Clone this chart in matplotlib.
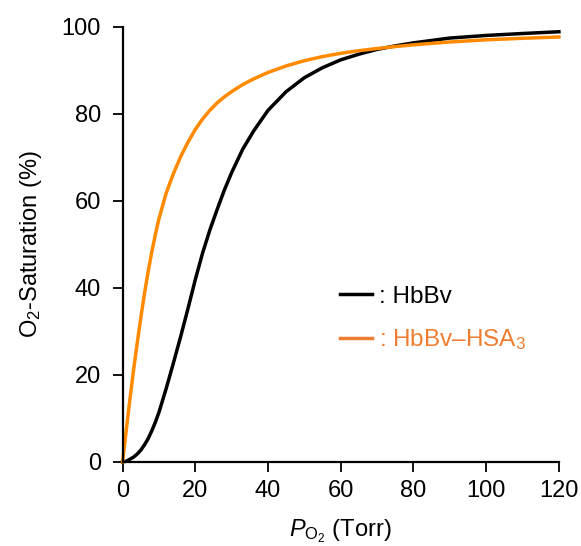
import numpy as np
import matplotlib.pyplot as plt

plt.rcParams['font.family'] = 'Liberation Sans'
plt.rcParams['mathtext.fontset'] = 'custom'
plt.rcParams['mathtext.rm'] = 'Liberation Sans'
plt.rcParams['mathtext.it'] = 'Liberation Sans:italic'

# O2 partial pressure (Torr)
po2 = [0, 1, 2, 3, 4, 5, 6, 7, 8, 9, 10, 12, 14, 16, 18, 20, 22, 24, 26, 28,
       30, 33, 36, 40, 45, 50, 55, 60, 65, 70, 75, 80, 90, 100, 110, 120]

# saturation (%)
sat_hbbv = [0, 0.15, 0.6, 1.1, 1.8, 2.7, 3.9, 5.3, 7.1, 9.1, 11.4, 16.9,
            22.8, 28.9, 35.3, 41.9, 48.0, 53.3, 58.0, 62.5, 66.5, 71.8, 76.0,
            80.8, 85.1, 88.3, 90.6, 92.4, 93.7, 94.8, 95.6, 96.3, 97.4, 98.0,
            98.45, 98.85]
sat_hsa = [0, 7.2, 14.3, 21.0, 27.2, 33.1, 38.6, 43.6, 48.1, 52.2, 55.9, 61.8,
           66.3, 70.2, 73.5, 76.4, 78.8, 80.8, 82.5, 83.9, 85.1, 86.7, 88.0,
           89.5, 91.0, 92.2, 93.15, 93.9, 94.5, 95.0, 95.45, 95.85, 96.5,
           97.0, 97.35, 97.65]

fig = plt.figure(figsize=(5.81, 5.46), dpi=100)
ax = fig.add_axes([0.211, 0.154, 0.751, 0.797])

ax.plot(po2, sat_hbbv, color='black', lw=2.5, clip_on=False, label=': HbBv')
ax.plot(po2, sat_hsa, color='#FF8A00', lw=2.5, clip_on=False,
        label=r': HbBv–HSA$_{\mathit{3}}$')

ax.set_xlim(0, 120)
ax.set_ylim(0, 100)
ax.set_xticks(np.arange(0, 121, 20))
ax.set_yticks(np.arange(0, 101, 20))
ax.spines['top'].set_visible(False)
ax.spines['right'].set_visible(False)
for s in ['left', 'bottom']:
    ax.spines[s].set_linewidth(1.6)
ax.tick_params(direction='out', length=7.5, width=1.3, labelsize=17)
ax.tick_params(axis='x', pad=5.5)
ax.tick_params(axis='y', pad=8)

ax.set_xlabel(r'$\mathit{P}_{\mathrm{O_2}}$ (Torr)', fontsize=17, labelpad=11)
ax.set_ylabel(r'O$_2$-Saturation (%)', fontsize=17, labelpad=13)

leg = ax.legend(loc='center left', bbox_to_anchor=(59.8, 32.9),
                bbox_transform=ax.transData, frameon=False, fontsize=17.5,
                handlelength=1.3, handletextpad=0.3, labelspacing=0.8,
                borderpad=0, borderaxespad=0)
leg.get_texts()[1].set_color('#EE7D31')
leg.get_lines()[1].set_color('#EE7D31')

fig.savefig('out.png', dpi=100)
